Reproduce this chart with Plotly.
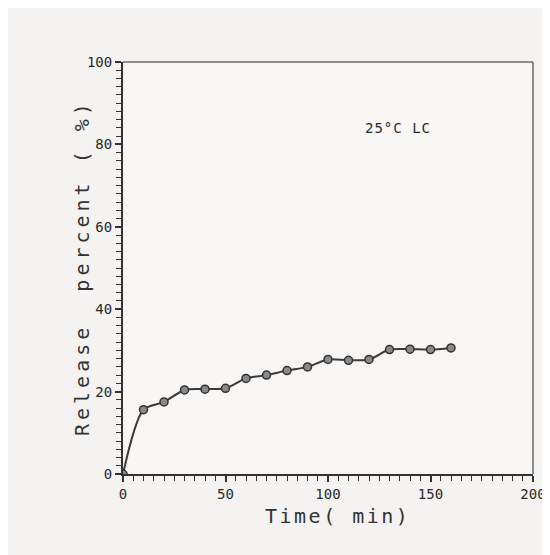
import plotly.graph_objects as go

time_min = [0, 10, 20, 30, 40, 50, 60, 70, 80, 90, 100, 110, 120, 130, 140, 150, 160]
release_pct = [0, 15.6, 17.5, 20.4, 20.6, 20.8, 23.2, 24.0, 25.1, 26.0, 27.8, 27.6, 27.8, 30.2, 30.3, 30.2, 30.6]
annotation_text = "25°C LC"
x_title = "Time( min)"
y_title = "Release  percent ( %)"

mono = "DejaVu Sans Mono"

fig = go.Figure()
fig.add_trace(go.Scatter(
    x=time_min, y=release_pct, mode="lines+markers",
    line=dict(color="#3a3a3a", width=2, shape="spline", smoothing=0.8),
    marker=dict(symbol="circle", size=8, color="#8a8a8a", line=dict(color="#333333", width=1.5)),
    showlegend=False,
))

axis_common = dict(
    showgrid=False, zeroline=False, showline=True, linecolor="#333333", linewidth=2,
    ticks="outside", ticklen=6, tickwidth=1.5, tickcolor="#333333",
    tickfont=dict(family=mono, size=14, color="#2a2a2a"),
    mirror=False,
)

fig.update_layout(
    width=550, height=555,
    margin=dict(l=115, r=23, t=54, b=89),
    paper_bgcolor="#f5f3f1",
    plot_bgcolor="#f9f7f5",
    xaxis=dict(range=[0, 200], dtick=50, tick0=0,
               minor=dict(dtick=5, ticks="outside", ticklen=5, tickcolor="#333333", tickwidth=1.2),
               **axis_common),
    yaxis=dict(range=[0, 100], dtick=20, tick0=0,
               minor=dict(dtick=2, ticks="outside", ticklen=5, tickcolor="#333333", tickwidth=1.2),
               **axis_common),
    shapes=[
        dict(type="line", xref="paper", yref="paper", x0=0, x1=1, y0=1, y1=1,
             line=dict(color="#6a6a6a", width=1.5)),
        dict(type="line", xref="paper", yref="paper", x0=1, x1=1, y0=0, y1=1,
             line=dict(color="#6a6a6a", width=1.5)),
    ],
    annotations=[
        dict(x=134, y=84, xref="x", yref="y", text='<span style="letter-spacing:1px">' + annotation_text + '</span>',
             showarrow=False, font=dict(family=mono, size=14, color="#2a2a2a")),
        dict(x=0.524, y=-0.103, xref="paper", yref="paper", xanchor="center", yanchor="middle",
             text='<span style="letter-spacing:2.5px">' + x_title + '</span>', showarrow=False,
             font=dict(family=mono, size=20, color="#333333")),
        dict(x=-0.1, y=0.5, xref="paper", yref="paper", xanchor="center", yanchor="middle", textangle=-90,
             text='<span style="letter-spacing:4px">' + y_title + '</span>', showarrow=False,
             font=dict(family=mono, size=20, color="#333333")),
    ],
)

fig.write_html("out.html")
